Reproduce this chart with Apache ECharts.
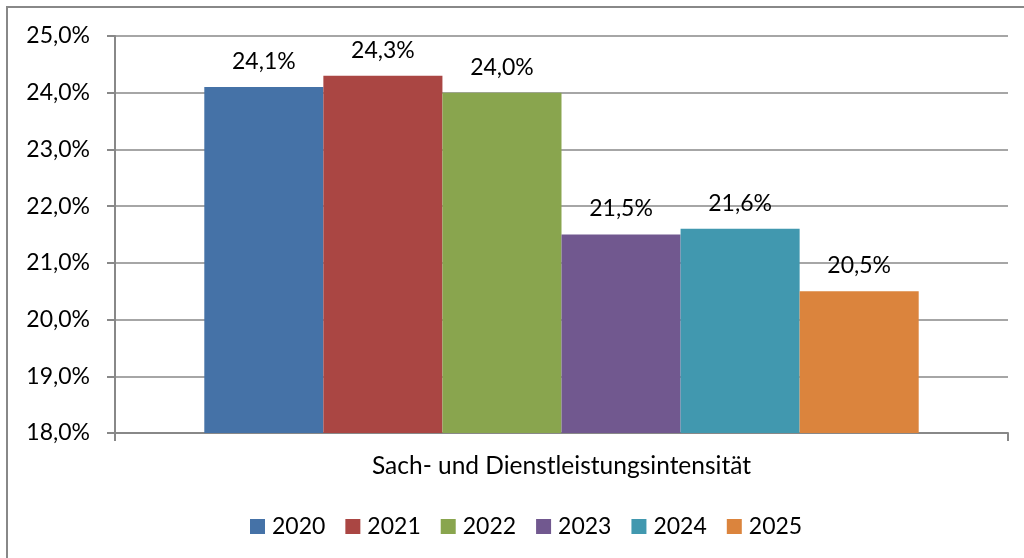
<!DOCTYPE html>
<html>
<head>
<meta charset="utf-8">
<script src="https://cdn.jsdelivr.net/npm/echarts@6/dist/echarts.min.js"></script>
<style>
  html, body { margin: 0; padding: 0; background: #fff; }
  #chart { width: 1024px; height: 558px; }
</style>
</head>
<body>
<div id="chart"></div>
<script>
  var categories = ['Sach- und Dienstleistungsintensität'];
  var years = ['2020', '2021', '2022', '2023', '2024', '2025'];
  var values = [24.1, 24.3, 24.0, 21.5, 21.6, 20.5];
  var colors = ['#4572A7', '#AA4643', '#89A54E', '#71588F', '#4198AF', '#DB843D'];

  var myChart = echarts.init(document.getElementById('chart'));
  var fmt = function(v) { return v.toFixed(1).replace('.', ',') + '%'; };
  var font = 'Lato, "Open Sans", sans-serif';

  var series = years.map(function(y, i) {
    return {
      name: y,
      type: 'bar',
      barGap: '0%',
      barCategoryGap: '20%',
      itemStyle: { color: colors[i] },
      label: {
        show: true,
        position: 'top',
        distance: 14,
        formatter: function(p) { return fmt(p.value); },
        color: '#000',
        fontSize: 23,
        fontFamily: font
      },
      data: [values[i]]
    };
  });

  var option = {
    animation: false,
    backgroundColor: '#fff',
    color: colors,
    grid: { left: 115, right: 16, top: 36, bottom: 125 },
    legend: {
      left: 245,
      top: 510,
      itemWidth: 15,
      itemHeight: 15,
      itemGap: 20,
      icon: 'rect',
      textStyle: { fontSize: 23, fontFamily: font, color: '#000', padding: [0, 0, 0, 2] },
      data: years
    },
    xAxis: {
      type: 'category',
      data: categories,
      axisLine: { lineStyle: { color: '#888', width: 2 } },
      axisTick: { show: true, length: 8, lineStyle: { color: '#888', width: 2 } },
      axisLabel: { fontSize: 24.5, fontFamily: font, color: '#000', margin: 21 }
    },
    yAxis: {
      type: 'value',
      min: 18,
      max: 25,
      interval: 1,
      axisLine: { show: true, lineStyle: { color: '#888', width: 2 } },
      axisTick: { show: true, length: 8, lineStyle: { color: '#888', width: 2 } },
      splitLine: { lineStyle: { color: '#888', width: 1.5 } },
      axisLabel: {
        fontSize: 23,
        fontFamily: font,
        color: '#000',
        margin: 25,
        formatter: function(v) { return fmt(v); }
      }
    },
    graphic: [{
      type: 'rect',
      shape: { x: 7, y: 7, width: 1040, height: 580 },
      style: { fill: 'none', stroke: '#888', lineWidth: 2 },
      silent: true
    }],
    series: series
  };

  myChart.setOption(option);
  window.addEventListener('resize', function() {
    myChart.resize();
  });
</script>
</body>
</html>
